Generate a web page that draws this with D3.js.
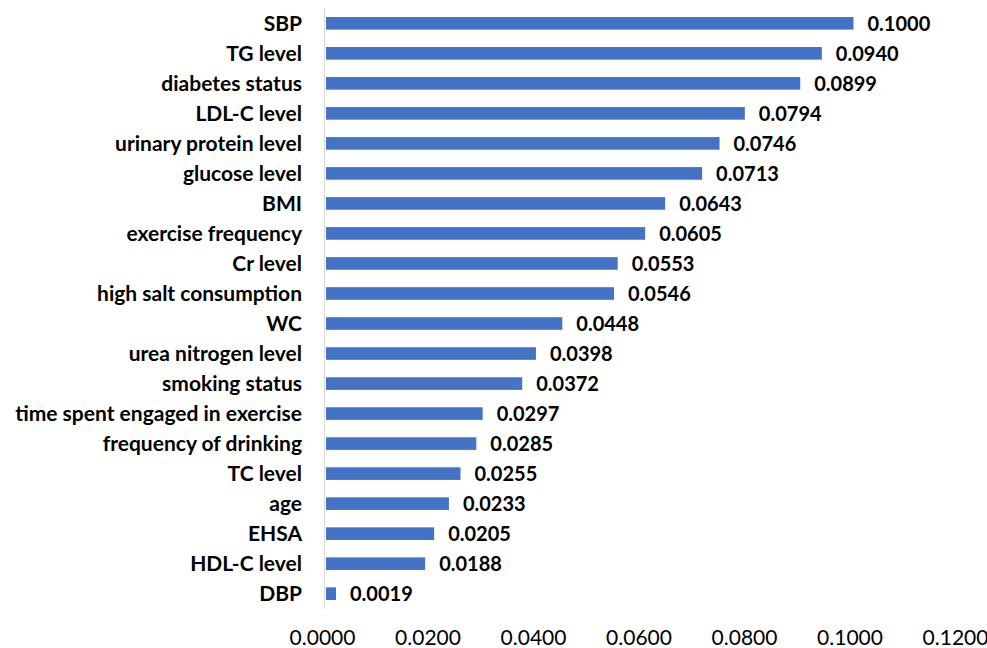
<!DOCTYPE html>
<html>
<head>
<meta charset="utf-8">
<script src="https://cdn.jsdelivr.net/npm/d3@7"></script>
<style>
  html, body { margin: 0; padding: 0; background: #fff; }
  svg text { font-family: Lato, "Open Sans", sans-serif; fill: #000; }
</style>
</head>
<body>
<svg id="chart" width="987" height="648"></svg>
<script>
// Feature importance values, top to bottom
const features = [
  "SBP", "TG level", "diabetes status", "LDL-C level", "urinary protein level",
  "glucose level", "BMI", "exercise frequency", "Cr level", "high salt consumption",
  "WC", "urea nitrogen level", "smoking status", "time spent engaged in exercise",
  "frequency of drinking", "TC level", "age", "EHSA", "HDL-C level", "DBP"
];
const importance = [
  0.1000, 0.0940, 0.0899, 0.0794, 0.0746,
  0.0713, 0.0643, 0.0605, 0.0553, 0.0546,
  0.0448, 0.0398, 0.0372, 0.0297,
  0.0285, 0.0255, 0.0233, 0.0205, 0.0188, 0.0019
];
const xTicks = [0, 0.02, 0.04, 0.06, 0.08, 0.10, 0.12];

const svg = d3.select("#chart");
const plotLeft = 326, plotRight = 959, plotTop = 8, plotBottom = 609;

const x = d3.scaleLinear().domain([0, 0.12]).range([plotLeft, plotRight]);
const y = d3.scaleBand().domain(features).range([plotTop, plotBottom])
  .paddingInner(0.58).paddingOuter(0.3);

// Bars
svg.append("g").selectAll("rect")
  .data(features)
  .join("rect")
  .attr("x", x(0))
  .attr("y", d => y(d))
  .attr("width", (d, i) => x(importance[i]) - x(0))
  .attr("height", y.bandwidth())
  .attr("fill", "#4472C4");

// Category axis line
svg.append("line")
  .attr("x1", x(0) - 1.5).attr("x2", x(0) - 1.5)
  .attr("y1", plotTop).attr("y2", plotBottom)
  .attr("stroke", "#d9d9d9").attr("stroke-width", 1);

// Category labels
svg.append("g").selectAll("text")
  .data(features)
  .join("text")
  .attr("x", 302)
  .attr("y", d => y(d) + y.bandwidth() / 2)
  .attr("dy", "0.36em")
  .attr("text-anchor", "end")
  .attr("font-size", 21)
  .attr("font-weight", "bold")
  .text(d => d);

// Value labels
svg.append("g").selectAll("text")
  .data(features)
  .join("text")
  .attr("x", (d, i) => x(importance[i]) + 14)
  .attr("y", d => y(d) + y.bandwidth() / 2)
  .attr("dy", "0.36em")
  .attr("font-size", 20)
  .attr("font-weight", "bold")
  .text((d, i) => importance[i].toFixed(4));

// Value axis tick labels
const xAxis = d3.axisBottom(x).tickValues(xTicks)
  .tickFormat(d => d.toFixed(4)).tickSize(0).tickPadding(0);
const gx = svg.append("g").attr("transform", "translate(-4,0)").call(xAxis);
gx.select(".domain").remove();
gx.selectAll("text")
  .attr("y", 645)
  .attr("dy", null)
  .attr("font-size", 21)
  .attr("font-family", "Lato, 'Open Sans', sans-serif")
  .attr("fill", "#000");
</script>
</body>
</html>
